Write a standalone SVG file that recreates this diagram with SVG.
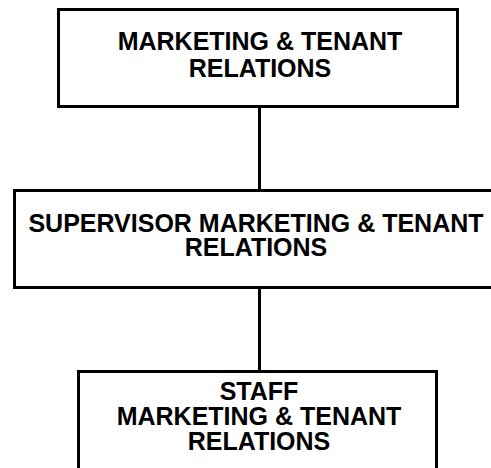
<svg xmlns="http://www.w3.org/2000/svg" width="491" height="468" viewBox="0 0 491 468">
<style>
.box{fill:#fff;stroke:#000;stroke-width:3}
.t{font-family:"Liberation Sans",Arial,sans-serif;font-weight:bold;font-size:25px;text-anchor:middle;fill:#000}
.c{stroke:#000;stroke-width:3;fill:none}
</style>
<rect width="491" height="468" fill="#fff"/>
<g id="connectors">
<line class="c" x1="259.5" y1="107" x2="259.5" y2="190"/>
<line class="c" x1="259.5" y1="288" x2="259.5" y2="371"/>
</g>
<g id="node1">
<rect class="box" x="58.5" y="9.5" width="399" height="97"/>
<text class="t" x="260" y="50">MARKETING &amp; TENANT</text>
<text class="t" x="260" y="77">RELATIONS</text>
</g>
<g id="node2">
<rect class="box" x="14.5" y="190.5" width="485" height="97"/>
<text class="t" x="256" y="232">SUPERVISOR MARKETING &amp; TENANT</text>
<text class="t" x="256" y="256">RELATIONS</text>
</g>
<g id="node3">
<rect class="box" x="78.5" y="371.5" width="358" height="110"/>
<text class="t" x="259" y="400">STAFF</text>
<text class="t" x="259" y="425">MARKETING &amp; TENANT</text>
<text class="t" x="259" y="450">RELATIONS</text>
</g>
</svg>
